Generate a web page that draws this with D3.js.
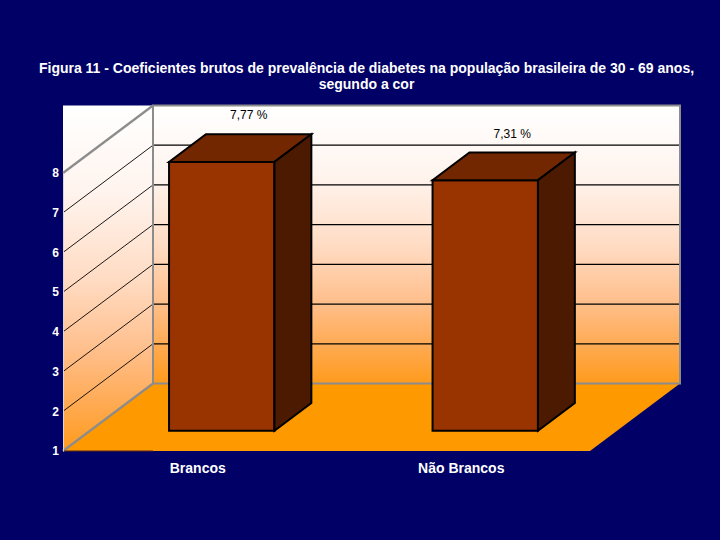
<!DOCTYPE html>
<html>
<head>
<meta charset="utf-8">
<script src="https://cdn.jsdelivr.net/npm/d3@7"></script>
<style>
  html, body { margin: 0; padding: 0; background: #000066; }
  svg { display: block; }
  text { font-family: "Liberation Sans", Arial, sans-serif; }
</style>
</head>
<body>
<svg id="chart" width="720" height="540"></svg>
<script>
// ---- data ----
const titleLines = [
  "Figura 11 - Coeficientes brutos de prevalência de diabetes na população brasileira de 30 - 69 anos,",
  "segundo a cor"
];
const categories = ["Brancos", "Não Brancos"];
const values = [7.77, 7.31];
const valueLabels = ["7,77 %", "7,31 %"];
const yTicks = [1, 2, 3, 4, 5, 6, 7, 8];

// ---- layout ----
const W = 720, H = 540;
const svg = d3.select("#chart");
svg.append("rect").attr("width", W).attr("height", H).attr("fill", "#000066");

const x = d3.scaleBand().domain(categories).range([63, 590]).padding(0);
const y = d3.scaleLinear().domain([1, 8]).range([451, 173]);
const dX = d3.scaleLinear().domain([0, 1]).range([0, 90]);
const dY = d3.scaleLinear().domain([0, 1]).range([0, -67.5]);
const P = (px, v, z) => [px + dX(z), y(v) + dY(z)];

const x0 = x.range()[0], x1 = x.range()[1];
const vMin = y.domain()[0], vMax = y.domain()[1];
const topY = y(vMax) + dY(1);

// gradients
const defs = svg.append("defs");
function grad(id) {
  const g = defs.append("linearGradient").attr("id", id)
    .attr("x1", 0).attr("y1", 0).attr("x2", 0).attr("y2", 1);
  [[0, "#ffffff"], [0.25, "#fff4ee"], [0.5, "#ffdcc4"], [0.7, "#ffc08e"],
   [0.85, "#ffac58"], [1, "#ff9b1c"]].forEach(([o, c]) =>
    g.append("stop").attr("offset", o).attr("stop-color", c));
}
grad("gLeft"); grad("gBack");

const line = d3.line();

// left wall area (incl. region above it)
const backBL = P(x0, vMin, 1);
svg.append("path")
  .attr("d", line([[x0, topY], [backBL[0], topY], backBL, P(x0, vMin, 0)]) + "Z")
  .attr("fill", "url(#gLeft)");
// back wall
const tr = P(x1, vMax, 1);
svg.append("rect")
  .attr("x", backBL[0]).attr("y", topY).attr("width", tr[0] - backBL[0]).attr("height", backBL[1] - topY)
  .attr("fill", "url(#gBack)");
// floor
svg.append("path")
  .attr("d", line([P(x0, vMin, 0), P(x1, vMin, 0), P(x1, vMin, 1), P(x0, vMin, 1)]) + "Z")
  .attr("fill", "#ff9900");

// gridlines
const inner = yTicks.filter(v => v > vMin && v < vMax);
svg.append("g").selectAll("path").data(inner).join("path")
  .attr("d", v => line([P(x0, v, 1), P(x1, v, 1)]))
  .attr("stroke", "#000").attr("stroke-width", 1.2).attr("fill", "none");
svg.append("g").selectAll("path").data(inner).join("path")
  .attr("d", v => line([P(x0, v, 0), P(x0, v, 1)]))
  .attr("stroke", "#000").attr("stroke-width", 0.9).attr("fill", "none");

// wall edges
const edge = "#8c8c8c";
svg.append("rect")
  .attr("x", backBL[0]).attr("y", topY).attr("width", tr[0] - backBL[0]).attr("height", backBL[1] - topY)
  .attr("fill", "none").attr("stroke", edge).attr("stroke-width", 2);
svg.append("path").attr("d", line([P(x0, vMax, 0), P(x0, vMax, 1)]))
  .attr("stroke", edge).attr("stroke-width", 2.2).attr("fill", "none");
svg.append("path").attr("d", line([P(x0, vMin, 0), P(x0, vMin, 1)]))
  .attr("stroke", edge).attr("stroke-width", 2.2).attr("fill", "none");
svg.append("path").attr("d", line([P(x0, vMin, 0), [backBL[0], y(vMin)]]))
  .attr("stroke", "#5a2a10").attr("stroke-width", 1.2).attr("fill", "none");

// y axis
const yAxis = svg.append("g").attr("transform", `translate(${x0},0)`)
  .call(d3.axisLeft(y).tickValues(yTicks).tickFormat(d3.format("d")).tickSize(0).tickPadding(4));
yAxis.select(".domain").attr("stroke", "#d8d8d8").attr("stroke-width", 1);
yAxis.selectAll("text").attr("fill", "#ffffff").attr("font-size", 12).attr("font-weight", "bold")
  .style("font-family", "Liberation Sans, Arial, sans-serif");

// bars
const z0 = 0.3, z1 = 0.71;
const bw = x.bandwidth() * 0.4;
const rows = categories.map((c, i) => ({ c, v: values[i], l: valueLabels[i] }));
const bars = svg.append("g").selectAll("g").data(rows).join("g");
bars.each(function (d) {
  const g = d3.select(this);
  const xl = x(d.c) + (x.bandwidth() - bw) / 2, xr = xl + bw;
  const face = (pts, fill) => g.append("path").attr("d", line(pts) + "Z").attr("fill", fill)
    .attr("stroke", "#000").attr("stroke-width", 2).attr("stroke-linejoin", "miter");
  face([P(xl, vMin, z0), P(xr, vMin, z0), P(xr, d.v, z0), P(xl, d.v, z0)], "#993300");
  face([P(xl, d.v, z0), P(xr, d.v, z0), P(xr, d.v, z1), P(xl, d.v, z1)], "#732700");
  face([P(xr, vMin, z0), P(xr, d.v, z0), P(xr, d.v, z1), P(xr, vMin, z1)], "#4c1a00");
});

// value labels
svg.append("g").selectAll("text").data(rows).join("text")
  .attr("x", d => x(d.c) + x.bandwidth() / 2 + dX(0.6))
  .attr("y", d => P(0, d.v, 1)[1] + 4.6)
  .attr("text-anchor", "middle").attr("font-size", 12).attr("fill", "#000")
  .text(d => d.l);

// category labels
svg.append("g").selectAll("text").data(categories).join("text")
  .attr("x", d => x(d) + x.bandwidth() / 2 + 3)
  .attr("y", 473)
  .attr("text-anchor", "middle").attr("font-size", 14).attr("font-weight", "bold").attr("fill", "#ffffff")
  .text(d => d);

// title
svg.append("g").selectAll("text").data(titleLines).join("text")
  .attr("x", 366.5).attr("y", (d, i) => 73 + i * 16)
  .attr("text-anchor", "middle").attr("font-size", 14).attr("font-weight", "bold").attr("fill", "#ffffff")
  .text(d => d);
</script>
</body>
</html>
